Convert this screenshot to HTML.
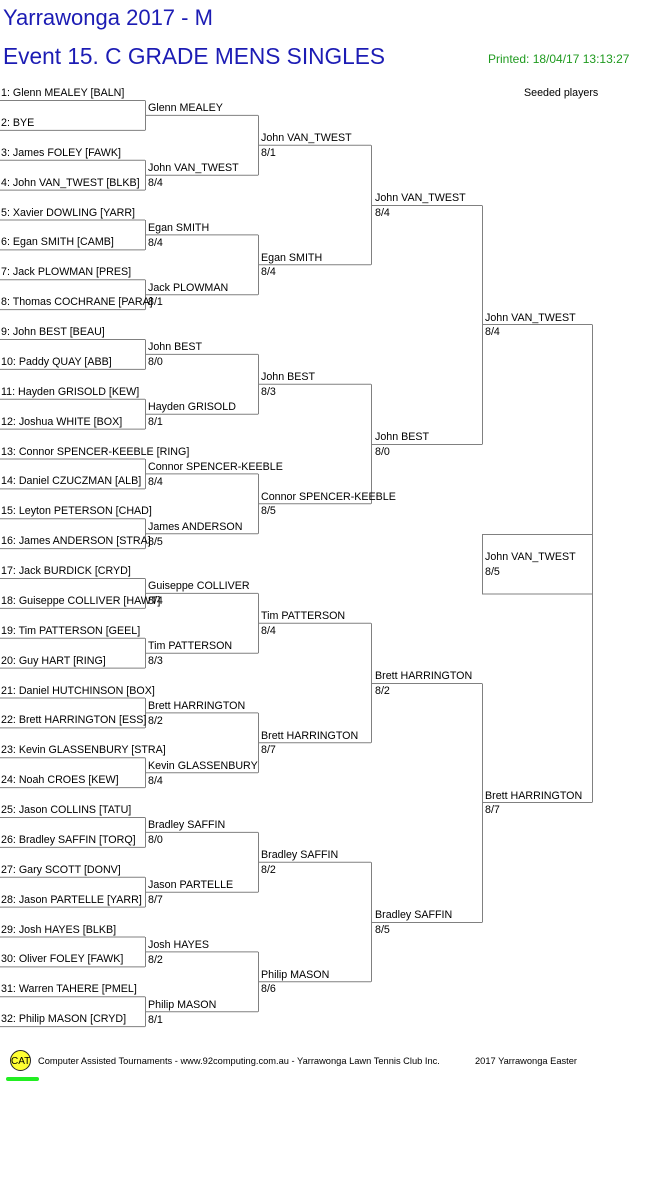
<!DOCTYPE html>
<html><head><meta charset="utf-8"><style>
html,body{margin:0;padding:0;background:#fff;}
svg{display:block;}
text{font-family:"Liberation Sans",Arial,sans-serif;font-size:10.7px;fill:#000;}
</style></head><body>
<svg width="661" height="1196" viewBox="0 0 661 1196" xmlns="http://www.w3.org/2000/svg">
<text x="3" y="25" style="font-size:22px;fill:#1c1cb4">Yarrawonga 2017 - M</text>
<text x="3" y="64" style="font-size:22.7px;fill:#1c1cb4">Event 15. C GRADE MENS SINGLES</text>
<text x="488" y="63" style="font-size:12px;fill:#1f9a1f">Printed: 18/04/17 13:13:27</text>
<text x="524" y="96">Seeded players</text>

<g fill="none" stroke="#808080" stroke-width="1">
<path d="M0 100.5H145M0 130.4H145M0 160.3H145M0 190.1H145M0 220H145M0 249.9H145M0 279.8H145M0 309.6H145M0 339.5H145M0 369.4H145M0 399.3H145M0 429.1H145M0 459H145M0 488.9H145M0 518.8H145M0 548.6H145M0 578.5H145M0 608.4H145M0 638.3H145M0 668.1H145M0 698H145M0 727.9H145M0 757.8H145M0 787.6H145M0 817.5H145M0 847.4H145M0 877.3H145M0 907.1H145M0 937H145M0 966.9H145M0 996.8H145M0 1026.6H145"/>
<path d="M145.5 100.5V130.4M145.5 160.3V190.1M145.5 220V249.9M145.5 279.8V309.6M145.5 339.5V369.4M145.5 399.3V429.1M145.5 459V488.9M145.5 518.8V548.6M145.5 578.5V608.4M145.5 638.3V668.1M145.5 698V727.9M145.5 757.8V787.6M145.5 817.5V847.4M145.5 877.3V907.1M145.5 937V966.9M145.5 996.8V1026.6"/>
<path d="M145 115.4H258M145 175.2H258M145 234.9H258M145 294.7H258M145 354.4H258M145 414.2H258M145 473.9H258M145 533.7H258M145 593.4H258M145 653.2H258M145 712.9H258M145 772.7H258M145 832.4H258M145 892.2H258M145 951.9H258M145 1011.7H258"/>
<path d="M258.5 115.4V175.2M258.5 234.9V294.7M258.5 354.4V414.2M258.5 473.9V533.7M258.5 593.4V653.2M258.5 712.9V772.7M258.5 832.4V892.2M258.5 951.9V1011.7"/>
<path d="M258 145.3H371M258 264.8H371M258 384.3H371M258 503.8H371M258 623.3H371M258 742.8H371M258 862.3H371M258 981.8H371"/>
<path d="M371.5 145.3V264.8M371.5 384.3V503.8M371.5 623.3V742.8M371.5 862.3V981.8"/>
<path d="M371 205.5H482M371 444.5H482M371 683.5H482M371 922.5H482"/>
<path d="M482.5 205.5V444.5M482.5 683.5V922.5"/>
<path d="M482 324.5H592M482 802.5H592"/>
<path d="M592.5 324.5V802.5"/>
<rect x="482.5" y="534.5" width="110" height="59.5"/>
</g>

<g>
<text x="1" y="96">1: Glenn MEALEY [BALN]</text>
<text x="1" y="126">2: BYE</text>
<text x="1" y="156">3: James FOLEY [FAWK]</text>
<text x="1" y="186">4: John VAN_TWEST [BLKB]</text>
<text x="1" y="216">5: Xavier DOWLING [YARR]</text>
<text x="1" y="245">6: Egan SMITH [CAMB]</text>
<text x="1" y="275">7: Jack PLOWMAN [PRES]</text>
<text x="1" y="305">8: Thomas COCHRANE [PARA]</text>
<text x="1" y="335">9: John BEST [BEAU]</text>
<text x="1" y="365">10: Paddy QUAY [ABB]</text>
<text x="1" y="395">11: Hayden GRISOLD [KEW]</text>
<text x="1" y="425">12: Joshua WHITE [BOX]</text>
<text x="1" y="455">13: Connor SPENCER-KEEBLE [RING]</text>
<text x="1" y="484">14: Daniel CZUCZMAN [ALB]</text>
<text x="1" y="514">15: Leyton PETERSON [CHAD]</text>
<text x="1" y="544">16: James ANDERSON [STRA]</text>
<text x="1" y="574">17: Jack BURDICK [CRYD]</text>
<text x="1" y="604">18: Guiseppe COLLIVER [HAWT]</text>
<text x="1" y="634">19: Tim PATTERSON [GEEL]</text>
<text x="1" y="664">20: Guy HART [RING]</text>
<text x="1" y="694">21: Daniel HUTCHINSON [BOX]</text>
<text x="1" y="723">22: Brett HARRINGTON [ESS]</text>
<text x="1" y="753">23: Kevin GLASSENBURY [STRA]</text>
<text x="1" y="783">24: Noah CROES [KEW]</text>
<text x="1" y="813">25: Jason COLLINS [TATU]</text>
<text x="1" y="843">26: Bradley SAFFIN [TORQ]</text>
<text x="1" y="873">27: Gary SCOTT [DONV]</text>
<text x="1" y="903">28: Jason PARTELLE [YARR]</text>
<text x="1" y="933">29: Josh HAYES [BLKB]</text>
<text x="1" y="962">30: Oliver FOLEY [FAWK]</text>
<text x="1" y="992">31: Warren TAHERE [PMEL]</text>
<text x="1" y="1022">32: Philip MASON [CRYD]</text>
</g>

<g>
<text x="148" y="111">Glenn MEALEY</text>
<text x="148" y="171">John VAN_TWEST</text><text x="148" y="186">8/4</text>
<text x="148" y="231">Egan SMITH</text><text x="148" y="246">8/4</text>
<text x="148" y="291">Jack PLOWMAN</text><text x="148" y="305">8/1</text>
<text x="148" y="350">John BEST</text><text x="148" y="365">8/0</text>
<text x="148" y="410">Hayden GRISOLD</text><text x="148" y="425">8/1</text>
<text x="148" y="470">Connor SPENCER-KEEBLE</text><text x="148" y="485">8/4</text>
<text x="148" y="530">James ANDERSON</text><text x="148" y="545">8/5</text>
<text x="148" y="589">Guiseppe COLLIVER</text><text x="148" y="604">8/4</text>
<text x="148" y="649">Tim PATTERSON</text><text x="148" y="664">8/3</text>
<text x="148" y="709">Brett HARRINGTON</text><text x="148" y="724">8/2</text>
<text x="148" y="769">Kevin GLASSENBURY</text><text x="148" y="784">8/4</text>
<text x="148" y="828">Bradley SAFFIN</text><text x="148" y="843">8/0</text>
<text x="148" y="888">Jason PARTELLE</text><text x="148" y="903">8/7</text>
<text x="148" y="948">Josh HAYES</text><text x="148" y="963">8/2</text>
<text x="148" y="1008">Philip MASON</text><text x="148" y="1023">8/1</text>
</g>

<g>
<text x="261" y="141">John VAN_TWEST</text><text x="261" y="156">8/1</text>
<text x="261" y="261">Egan SMITH</text><text x="261" y="275">8/4</text>
<text x="261" y="380">John BEST</text><text x="261" y="395">8/3</text>
<text x="261" y="500">Connor SPENCER-KEEBLE</text><text x="261" y="514">8/5</text>
<text x="261" y="619">Tim PATTERSON</text><text x="261" y="634">8/4</text>
<text x="261" y="739">Brett HARRINGTON</text><text x="261" y="753">8/7</text>
<text x="261" y="858">Bradley SAFFIN</text><text x="261" y="873">8/2</text>
<text x="261" y="978">Philip MASON</text><text x="261" y="992">8/6</text>
</g>

<g>
<text x="375" y="201">John VAN_TWEST</text><text x="375" y="216">8/4</text>
<text x="375" y="440">John BEST</text><text x="375" y="455">8/0</text>
<text x="375" y="679">Brett HARRINGTON</text><text x="375" y="694">8/2</text>
<text x="375" y="918">Bradley SAFFIN</text><text x="375" y="933">8/5</text>
</g>

<g>
<text x="485" y="321">John VAN_TWEST</text><text x="485" y="335">8/4</text>
<text x="485" y="799">Brett HARRINGTON</text><text x="485" y="813">8/7</text>
<text x="485" y="560">John VAN_TWEST</text><text x="485" y="575">8/5</text>
</g>

<circle cx="20.5" cy="1060.5" r="10" fill="#ffff33" stroke="#222" stroke-width="1"/>
<text x="11" y="1064" style="font-size:10px">CAT</text>
<rect x="6" y="1077" width="33" height="4" rx="2" fill="#22ee22"/>
<text x="38" y="1064" style="font-size:9.3px">Computer Assisted Tournaments - www.92computing.com.au -  Yarrawonga Lawn Tennis Club Inc.</text>
<text x="475" y="1064" style="font-size:9.3px">2017 Yarrawonga Easter</text>
</svg>
</body></html>
